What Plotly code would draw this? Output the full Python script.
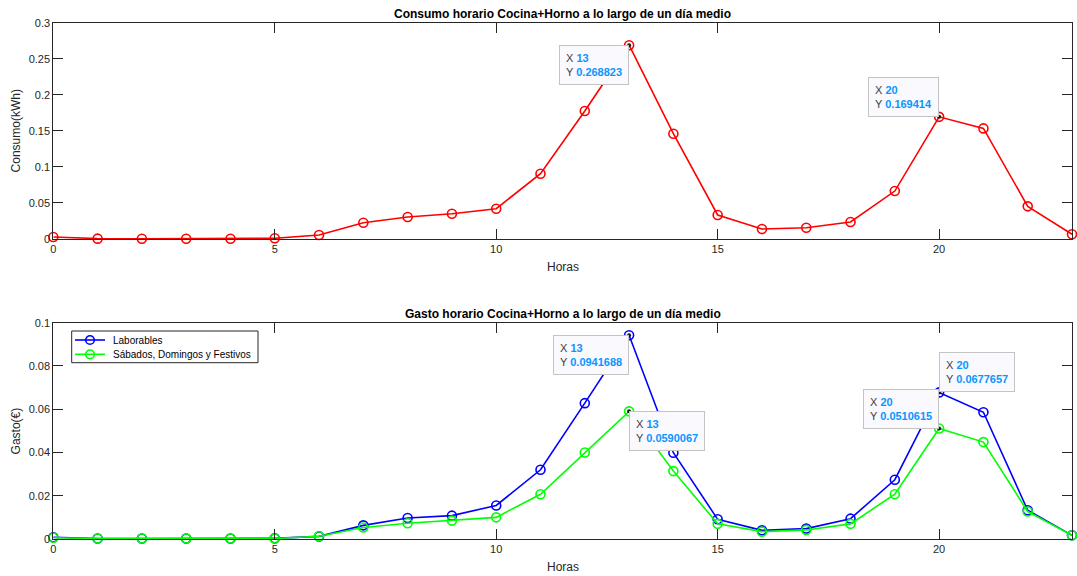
import plotly.graph_objects as go

# Horas del día
horas = list(range(24))

# Consumo medio por hora (kWh)
consumo = [0.0028, 0.0005, 0.0003, 0.0003, 0.0003, 0.0010, 0.0055, 0.0226,
           0.0305, 0.0350, 0.0420, 0.0906, 0.1775, 0.268823, 0.1460, 0.0333,
           0.0139, 0.0157, 0.0236, 0.0665, 0.169414, 0.1534, 0.0453, 0.0065]

# Gasto medio por hora (€)
gasto_laborables = [0.0008, 0.0002, 0.0002, 0.0002, 0.0002, 0.0003, 0.0012, 0.0063,
                    0.0097, 0.0108, 0.0155, 0.0320, 0.0628, 0.0941688, 0.0399, 0.0091,
                    0.0040, 0.0048, 0.0094, 0.0274, 0.0677657, 0.0586, 0.0133, 0.0017]
gasto_festivos = [0.0006, 0.0002, 0.0002, 0.0002, 0.0002, 0.0002, 0.0013, 0.0053,
                  0.0073, 0.0085, 0.0100, 0.0207, 0.0400, 0.0590067, 0.0314, 0.0070,
                  0.0034, 0.0042, 0.0070, 0.0207, 0.0510615, 0.0448, 0.0127, 0.0017]

nombres_gasto = ["Laborables", "Sábados, Domingos y Festivos"]
colores_gasto = ["#0000ff", "#00ff00"]

# Horas marcadas con etiqueta de dato
horas_marcadas = [13, 20]

y_ticks_consumo = [0, 0.05, 0.1, 0.15, 0.2, 0.25, 0.3]
y_ticks_gasto = [0, 0.02, 0.04, 0.06, 0.08, 0.1]
x_ticks = [0, 5, 10, 15, 20]

W, H = 1077, 576
FONT = "Liberation Sans, Arial, Helvetica, sans-serif"
AXIS_COLOR = "#262626"
TIP_BLUE = "#0a96ff"

X_DOM = [53.3 / W, 1072 / W]
TOP_DOM = [1 - 239 / H, 1 - 22.7 / H]
BOT_DOM = [1 - 539 / H, 1 - 322.7 / H]


def px(x):
    return x / W


def py(y):
    return 1 - y / H


def serie(x, y, color, name, xa, ya):
    return go.Scatter(
        x=x, y=y, mode="lines+markers", name=name, showlegend=False,
        line=dict(color=color, width=1.6),
        marker=dict(symbol="circle-open", size=9, color=color, line=dict(width=1.6, color=color)),
        xaxis=xa, yaxis=ya, cliponaxis=False,
    )


fig = go.Figure()
fig.add_trace(serie(horas, consumo, "#ff0000", "Consumo", "x", "y"))
fig.add_trace(serie(horas, gasto_laborables, colores_gasto[0], nombres_gasto[0], "x2", "y2"))
fig.add_trace(serie(horas, gasto_festivos, colores_gasto[1], nombres_gasto[1], "x2", "y2"))


# Puntos negros de las etiquetas de dato
def puntos(serie_y, xa, ya):
    return go.Scatter(
        x=horas_marcadas, y=[serie_y[h] for h in horas_marcadas], mode="markers",
        marker=dict(size=4, color="#1a1a1a"), showlegend=False,
        xaxis=xa, yaxis=ya, cliponaxis=False, hoverinfo="skip",
    )


fig.add_trace(puntos(consumo, "x", "y"))
fig.add_trace(puntos(gasto_laborables, "x2", "y2"))
fig.add_trace(puntos(gasto_festivos, "x2", "y2"))


def tip(serie_y, h, xa, ya, xanchor, yanchor):
    texto = (f"X <b><span style='color:{TIP_BLUE}'>{h}</span></b><br>"
             f"Y <b><span style='color:{TIP_BLUE}'>{serie_y[h]:g}</span></b>")
    return dict(
        x=h, y=serie_y[h], xref=xa, yref=ya, text=texto, showarrow=False,
        xanchor=xanchor, yanchor=yanchor, align="left",
        font=dict(family=FONT, size=11, color="#404040"),
        bgcolor="#f9f9fe", bordercolor="#c4c4c4", borderwidth=1, borderpad=6,
    )


annotations = [
    tip(consumo, 13, "x", "y", "right", "top"),
    tip(consumo, 20, "x", "y", "right", "bottom"),
    tip(gasto_laborables, 13, "x2", "y2", "right", "top"),
    tip(gasto_festivos, 13, "x2", "y2", "left", "top"),
    tip(gasto_festivos, 20, "x2", "y2", "right", "bottom"),
    tip(gasto_laborables, 20, "x2", "y2", "left", "bottom"),
]

xc = (X_DOM[0] + X_DOM[1]) / 2
texto_fijo = [
    ("<b>Consumo horario Cocina+Horno a lo largo de un día medio</b>", xc, py(14), 0, 12, "#000000"),
    ("<b>Gasto horario Cocina+Horno a lo largo de un día medio</b>", xc, py(314), 0, 12, "#000000"),
    ("Horas", xc, py(267), 0, 12, AXIS_COLOR),
    ("Horas", xc, py(567), 0, 12, AXIS_COLOR),
    ("Consumo(kWh)", px(15.5), py(130.9), -90, 12, AXIS_COLOR),
    ("Gasto(€)", px(15.5), py(430.9), -90, 12, AXIS_COLOR),
]
for txt, x, y, ang, size, col in texto_fijo:
    annotations.append(dict(
        text=txt, x=x, y=y, xref="paper", yref="paper", showarrow=False,
        xanchor="center", yanchor="middle", textangle=ang,
        font=dict(family=FONT, size=size, color=col),
    ))

# Leyenda del gráfico de gasto: recuadro, muestra de línea con círculo y texto
shapes = [dict(type="rect", xref="paper", yref="paper",
               x0=px(71.7), x1=px(258), y0=py(362.7), y1=py(331),
               line=dict(color=AXIS_COLOR, width=1), fillcolor="white", layer="above")]
for i, (nombre, color) in enumerate(zip(nombres_gasto, colores_gasto)):
    yy = 340 + i * 14.3
    shapes.append(dict(type="line", xref="paper", yref="paper",
                       x0=px(75), x1=px(105), y0=py(yy), y1=py(yy),
                       line=dict(color=color, width=1.6), layer="above"))
    shapes.append(dict(type="circle", xref="paper", yref="paper",
                       x0=px(90 - 4.3), x1=px(90 + 4.3), y0=py(yy + 4.3), y1=py(yy - 4.3),
                       line=dict(color=color, width=1.6), fillcolor="rgba(0,0,0,0)", layer="above"))
    annotations.append(dict(
        text=nombre, x=px(111), y=py(yy), xref="paper", yref="paper", showarrow=False,
        xanchor="left", yanchor="middle",
        font=dict(family=FONT, size=10, color="#000000"),
    ))


def eje_x(anchor):
    return dict(
        domain=X_DOM, range=[0, 23], anchor=anchor, tickvals=x_ticks,
        ticks="inside", ticklen=10, tickwidth=1, tickcolor=AXIS_COLOR,
        showline=True, linecolor=AXIS_COLOR, linewidth=1, mirror="ticks",
        showgrid=False, zeroline=False, automargin=False,
        tickfont=dict(family=FONT, size=11, color=AXIS_COLOR),
    )


def eje_y(anchor, dom, rng, vals):
    return dict(
        domain=dom, range=rng, anchor=anchor, tickvals=vals,
        ticktext=[f"{v:g}" for v in vals],
        ticks="inside", ticklen=10, tickwidth=1, tickcolor=AXIS_COLOR,
        showline=True, linecolor=AXIS_COLOR, linewidth=1, mirror="ticks",
        showgrid=False, zeroline=False, automargin=False,
        tickfont=dict(family=FONT, size=11, color=AXIS_COLOR),
    )


fig.update_layout(
    width=W, height=H,
    margin=dict(l=0, r=0, t=0, b=0, pad=0),
    paper_bgcolor="white", plot_bgcolor="white",
    font=dict(family=FONT, color=AXIS_COLOR),
    xaxis=eje_x("y"),
    yaxis=eje_y("x", TOP_DOM, [0, 0.3], y_ticks_consumo),
    xaxis2=eje_x("y2"),
    yaxis2=eje_y("x2", BOT_DOM, [0, 0.1], y_ticks_gasto),
    annotations=annotations,
    shapes=shapes,
    showlegend=False,
)

fig.write_html("out.html")
